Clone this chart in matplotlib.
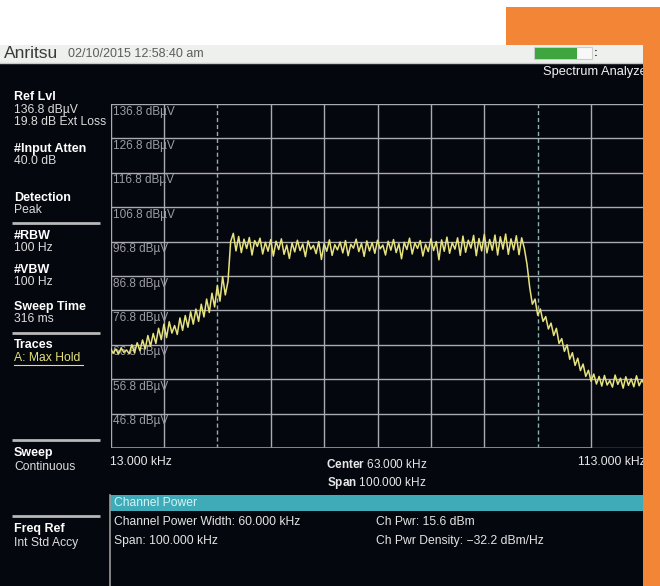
import matplotlib.pyplot as plt
import numpy as np
from matplotlib.patches import Rectangle

plt.rcParams["mathtext.fontset"] = "custom"
plt.rcParams["mathtext.rm"] = "Liberation Sans"
plt.rcParams["mathtext.bf"] = "Liberation Sans:bold"

# trace readout, 13 to 113 kHz in 0.5 kHz steps (dBuV)
trace_db = [
    65.8, 64.3, 65.6, 64.1, 65.9, 64.6, 65.3, 64.2, 66.8, 64.5,
    67.4, 65.1, 68.2, 65.6, 69.5, 66.4, 70.1, 67.2, 71.6, 68.3,
    72.8, 68.9, 73.5, 70.2, 72.4, 69.8, 74.6, 71.0, 75.3, 71.9,
    76.4, 72.8, 77.2, 73.6, 78.6, 74.9, 80.1, 76.2, 81.8, 77.8,
    84.0, 79.5, 86.6, 81.3, 85.2, 96.8, 99.2, 94.1, 98.3, 93.6,
    97.5, 94.8, 98.0, 92.9, 97.1, 95.4, 97.8, 93.2, 96.6, 94.0,
    97.4, 92.6, 96.9, 94.5, 97.6, 93.1, 95.8, 91.9, 96.4, 93.8,
    97.2, 94.2, 96.1, 92.4, 97.0, 94.6, 95.7, 93.3, 96.8, 91.6,
    96.2, 94.0, 97.3, 92.8, 95.9, 94.4, 96.7, 93.5, 97.1, 92.7,
    96.0, 94.9, 97.5, 93.9, 96.3, 92.5, 97.0, 94.1, 96.5, 93.4,
    97.2, 94.7, 95.8, 92.9, 96.9, 94.3, 97.4, 93.6, 96.2, 91.8,
    96.6, 94.5, 97.8, 93.2, 96.4, 94.8, 97.1, 92.6, 96.0, 93.9,
    97.6, 94.2, 96.8, 91.5, 97.3, 94.0, 98.1, 93.4, 96.5, 94.6,
    97.9, 92.8, 98.4, 93.7, 97.2, 94.9, 98.6, 92.7, 97.7, 94.1,
    98.9, 93.5, 97.4, 94.3, 98.7, 92.9, 98.2, 94.6, 99.0, 93.1,
    97.6, 94.4, 98.5, 93.0, 97.9, 94.8, 90.2, 83.5, 78.6, 80.1,
    75.4, 77.2, 73.6, 75.0, 71.4, 73.1, 69.5, 71.6, 67.2, 68.6,
    64.9, 66.8, 62.6, 64.5, 60.8, 62.9, 59.3, 61.2, 57.6, 59.4,
    56.2, 58.3, 55.4, 57.6, 54.8, 57.9, 55.1, 56.4, 54.5, 58.0,
    55.3, 57.1, 54.2, 57.5, 55.0, 56.9, 54.6, 57.8, 54.9, 56.6,
    55.2,
]
start_khz = 13.0
stop_khz = 113.0
ref_level = 136.8
db_per_div = 10
ch_low, ch_high = 33.0, 93.0
pink_end = 103.0

level_labels = ["136.8 dB\u00b5V", "126.8 dB\u00b5V", "116.8 dB\u00b5V", "106.8 dB\u00b5V",
                "96.8 dB\u00b5V", "86.8 dB\u00b5V", "76.8 dB\u00b5V", "66.8 dB\u00b5V",
                "56.8 dB\u00b5V", "46.8 dB\u00b5V"]

left_panel = [
    ("Ref Lvl", True, 97), ("136.8 dB\u00b5V", False, 110), ("19.8 dB Ext Loss", False, 122),
    ("#Input Atten", True, 149), ("40.0 dB", False, 161),
    ("Detection", True, 198), ("Peak", False, 210),
    ("#RBW", True, 236), ("100 Hz", False, 248),
    ("#VBW", True, 270), ("100 Hz", False, 282),
    ("Sweep Time", True, 307), ("316 ms", False, 319),
    ("Traces", True, 345),
    ("Sweep", True, 453), ("Continuous", False, 467),
    ("Freq Ref", True, 529), ("Int Std Accy", False, 543),
]
separators = [223, 333, 440, 516]

FONT = "Liberation Sans"
SCREEN = "#05070f"
GRID = "#a9aab2"
ORANGE = "#f38636"
FS = 8.7

W, H = 660, 586
fig = plt.figure(figsize=(W / 100, H / 100), dpi=100)
fig.patch.set_facecolor("white")

bg = fig.add_axes([0, 0, 1, 1], zorder=0)
bg.set_xlim(0, W)
bg.set_ylim(H, 0)
bg.axis("off")

# screen
bg.add_patch(Rectangle((0, 63), 645, H - 63, color=SCREEN, lw=0))
bg.add_patch(Rectangle((0, 45), 645, 18, color="#eef0ee", lw=0))
bg.plot([0, 645], [62.5, 62.5], color="#c8cac8", lw=1)
bg.text(4, 54, "Anritsu", fontsize=12.5, color="#3a3a3a", family=FONT, va="center")
bg.text(68, 54, "02/10/2015 12:58:40 am", fontsize=9, color="#5c5c5c", family=FONT, va="center")
bg.add_patch(Rectangle((534, 47), 58, 12, facecolor="#f8f8f8", edgecolor="#cccccc", lw=0.8))
bg.add_patch(Rectangle((535, 47.5), 42, 11, color="#3fa53f", lw=0))
bg.text(594, 53, ":", fontsize=8, color="#333333", family=FONT, va="center", weight="bold")
bg.text(543, 72, "Spectrum Analyzer", fontsize=9.3, color="#f0f0f0", family=FONT, va="center")

for label, bold, y in left_panel:
    bg.text(14, y, label, fontsize=9 if bold else FS, family=FONT, va="center",
            color="white" if bold else "#dcdcdc", weight="bold" if bold else "normal")
bg.text(14, 358, "A: Max Hold", fontsize=FS, family=FONT, va="center", color="#e6e07a")
bg.plot([14, 83], [365, 365], color="#e6e07a", lw=0.8)
for y in separators:
    bg.plot([12, 100], [y, y], color="#b8b8b8", lw=2, solid_capstyle="butt")

# frequency labels
bg.text(110, 462, "13.000 kHz", fontsize=FS, color="#e8e8e8", family=FONT, va="center")
bg.text(578, 462, "113.000 kHz", fontsize=FS, color="#e8e8e8", family=FONT, va="center")
bg.text(377, 465, r"$\mathbf{Center}$ 63.000 kHz", fontsize=8.5, color="#e8e8e8", family=FONT,
        va="center", ha="center")
bg.text(377, 483, r"$\mathbf{Span}$ 100.000 kHz", fontsize=8.5, color="#e8e8e8", family=FONT,
        va="center", ha="center")

# channel power box
bg.add_patch(Rectangle((110, 495), 535, 16, color="#3fabb9", lw=0))
bg.plot([110, 110], [495, H], color="#9a9a9a", lw=1.2)
bg.text(114, 503, "Channel Power", fontsize=FS, color="#d2f4f6", family=FONT, va="center")
bg.text(114, 522, "Channel Power Width: 60.000 kHz", fontsize=FS, color="#e4e4e4", family=FONT, va="center")
bg.text(114, 541, "Span: 100.000 kHz", fontsize=FS, color="#e4e4e4", family=FONT, va="center")
bg.text(376, 522, "Ch Pwr: 15.6 dBm", fontsize=FS, color="#e4e4e4", family=FONT, va="center")
bg.text(376, 541, "Ch Pwr Density: \u221232.2 dBm/Hz", fontsize=FS, color="#e4e4e4", family=FONT, va="center")

# trace area
top, bottom, left, right = 104, 448, 110.5, 644.5
ax = fig.add_axes([left / W, 1 - bottom / H, (right - left) / W, (bottom - top) / H], zorder=1)
ax.set_facecolor("none")
bottom_level = ref_level - 10 * db_per_div
ax.set_xlim(start_khz, stop_khz)
ax.set_ylim(bottom_level, ref_level)
ax.axis("off")

levels = ref_level - db_per_div * np.arange(11)
for lv in levels:
    ax.axhline(lv, color=GRID, lw=1, zorder=1)
freqs_grid = start_khz + 10 * np.arange(11)
for f in freqs_grid:
    if f in (ch_low, ch_high):
        ax.axvline(f, color="#8fb0a8", lw=1, ls=(0, (3, 2)), zorder=1)
    else:
        ax.axvline(f, color=GRID, lw=1, zorder=1)
ax.plot([start_khz, pink_end], [bottom_level, bottom_level], color="#c46ac4", lw=2,
        solid_capstyle="butt", zorder=2)

for lv, lab in zip(levels[:10], level_labels):
    ax.text(start_khz + 0.4, lv - 2.2, lab, fontsize=8.5, color="#9c9ca4", family=FONT,
            va="center", zorder=2)

freqs = np.linspace(start_khz, stop_khz, len(trace_db))
ax.plot(freqs, trace_db, color="#e6e27c", lw=1.1, zorder=3)

# orange overlay strips
ov = fig.add_axes([0, 0, 1, 1], zorder=5)
ov.set_xlim(0, W)
ov.set_ylim(H, 0)
ov.axis("off")
ov.set_facecolor("none")
ov.add_patch(Rectangle((506, 7), W - 506, 38, color=ORANGE, lw=0))
ov.add_patch(Rectangle((643, 7), W - 643, H - 7, color=ORANGE, lw=0))

fig.savefig("out.png", dpi=100)
